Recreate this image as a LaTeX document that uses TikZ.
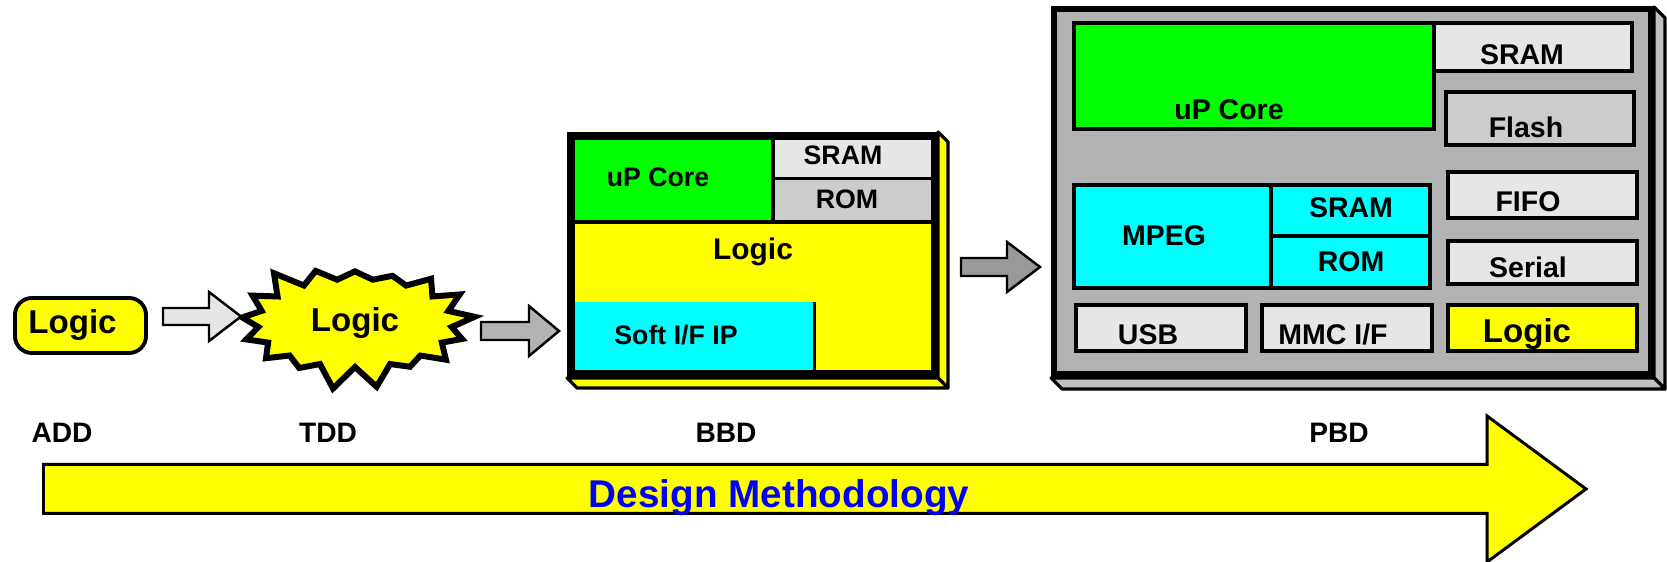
\documentclass[tikz,border=0pt]{standalone}
\usepackage{fontspec}
\setmainfont{Liberation Sans}
\usetikzlibrary{shapes.symbols}

\definecolor{ltgray}{HTML}{E6E6E6}
\definecolor{mdgray}{HTML}{CCCCCC}
\definecolor{chipgray}{HTML}{B3B3B3}
\definecolor{dkgray}{HTML}{999999}
\definecolor{sidegray}{HTML}{C0C0C0}
\definecolor{logicyellow}{RGB}{255,255,0}
\definecolor{coregreen}{RGB}{0,255,0}
\definecolor{ipcyan}{RGB}{0,255,255}
\definecolor{titleblue}{RGB}{0,0,255}

% block arrow: options, start, body length, head length, body half, head half
\newcommand{\fatarrow}[6]{%
  \draw[#1] (#2) ++(0,-#5) -- ++(#3,0) -- ++(0,#5-#6) -- ++(#4,#6)
    -- ++(-#4,#6) -- ++(0,#5-#6) -- ++(-#3,0) -- cycle;}

\begin{document}
\begin{tikzpicture}[x=0.01cm, y=-0.01cm,
    lbl/.style={font=\fontsize{8}{9.6}\selectfont\bfseries, inner sep=0pt, anchor=base},
    big/.style={font=\fontsize{9.4}{11}\selectfont\bfseries, inner sep=0pt, anchor=base},
    sml/.style={font=\fontsize{7.6}{9}\selectfont\bfseries, inner sep=0pt, anchor=base},
    chip/.style={font=\fontsize{8.1}{9.6}\selectfont\bfseries, inner sep=0pt, anchor=base},
    arrowline/.style={draw, line width=0.7pt},
    face/.style={draw, line width=0.9pt, line join=round},
    blk/.style={draw, line width=1pt}]
  \useasboundingbox (0,0) rectangle (1667,562);

  % methodology arrow
  \coordinate (dm) at (43.5,489);
  \fatarrow{line width=0.85pt, fill=logicyellow}{dm}{1443.5}{99}{24.5}{73}
  \node[font=\fontsize{11}{13}\selectfont\bfseries, text=titleblue, anchor=base, inner sep=0pt] (dmtext) at (779,508) {Design Methodology};

  \node[lbl] (add) at (62,443) {ADD};
  \node[lbl] (tdd) at (328,443) {TDD};
  \node[lbl] (bbd) at (726,443) {BBD};
  \node[lbl] (pbd) at (1339,443) {PBD};

  % ADD and TDD
  \node[draw, fill=logicyellow, line width=1.1pt, rounded corners=0.17cm, minimum width=1.31cm, minimum height=0.55cm, inner sep=0pt, font=\fontsize{9.4}{11}\selectfont\bfseries] (addlogic) at (80.5,325.5) {Logic\hspace*{0.16cm}};
  \node[starburst, draw, fill=logicyellow, line width=1.7pt, starburst points=17, starburst point height=0.24cm, random starburst=3, minimum width=2.42cm, minimum height=1.36cm, font=\fontsize{9.4}{11}\selectfont\bfseries] (tddlogic) at (355,323) {Logic};

  \coordinate (a1) at (163,316.5);
  \fatarrow{arrowline, fill=ltgray}{a1}{46}{32}{8.5}{24.5}
  \coordinate (a2) at (481,331);
  \fatarrow{arrowline, fill=chipgray}{a2}{48}{30}{9}{25}
  \coordinate (a3) at (961,267);
  \fatarrow{arrowline, fill=dkgray}{a3}{46}{33}{9}{25}

  % BBD chip
  \draw[face, fill=logicyellow] (938,132) -- (948,142) -- (948,388) -- (938,378) -- cycle;
  \draw[face, fill=logicyellow] (567,378) -- (938,378) -- (948,388) -- (577,388) -- cycle;
  \fill[logicyellow] (571,136) rectangle (935,374);
  \fill[coregreen] (571,136) rectangle (773,222);
  \fill[ltgray] (773,136) rectangle (935,179);
  \fill[mdgray] (773,179) rectangle (935,222);
  \fill[ipcyan] (571,302) rectangle (814,374);
  \draw[line width=1.15pt] (773,136) -- (773,222);
  \draw[line width=1.15pt] (571,222) -- (935,222);
  \draw[line width=0.85pt] (773,179) -- (935,179);
  \draw[line width=0.85pt] (814,302) -- (814,374);
  \draw[line width=2.2pt] (571,136) rectangle (935,374);
  \node[sml] (bcore) at (658,187) {uP Core};
  \node[sml] (bsram) at (843,165) {SRAM};
  \node[sml] (brom) at (847,209) {ROM};
  \node[font=\fontsize{8.5}{10}\selectfont\bfseries, anchor=base, inner sep=0pt] (blogic) at (753,260) {Logic};
  \node[sml] (bsoft) at (676,345) {Soft I/F IP};

  % PBD chip
  \draw[face, fill=sidegray] (1654,7) -- (1665,18) -- (1665,389) -- (1654,378) -- cycle;
  \draw[face, fill=sidegray] (1051,378) -- (1654,378) -- (1665,389) -- (1062,389) -- cycle;
  \draw[line width=1.7pt, fill=chipgray] (1054,9.5) rectangle (1651,374.5);
  \draw[blk, fill=coregreen] (1074,23) rectangle (1434,129);
  \draw[blk, fill=ltgray] (1434,23) rectangle (1632,71);
  \draw[blk, fill=mdgray] (1446,92) rectangle (1634,145);
  \draw[blk, fill=ltgray] (1448,172) rectangle (1637,218);
  \draw[blk, fill=ltgray] (1448,241) rectangle (1637,284);
  \draw[blk, fill=logicyellow] (1448,305) rectangle (1637,351);
  \draw[blk, fill=ipcyan] (1074,185) rectangle (1430,288);
  \draw[blk] (1271,185) -- (1271,288);
  \draw[blk] (1271,236) -- (1430,236);
  \draw[blk, fill=ltgray] (1076,305) rectangle (1246,351);
  \draw[blk, fill=ltgray] (1262,305) rectangle (1432,351);
  \node[chip] (pcore) at (1229,120) {uP Core};
  \node[chip] (psram) at (1522,65) {SRAM};
  \node[chip] (pflash) at (1526,138) {Flash};
  \node[chip] (pfifo) at (1528,212) {FIFO};
  \node[chip] (pserial) at (1528,278) {Serial};
  \node[big] (plogic) at (1527,343) {Logic};
  \node[chip] (pmpeg) at (1164,246) {MPEG};
  \node[chip] (pmsram) at (1351,218) {SRAM};
  \node[chip] (pmrom) at (1351,272) {ROM};
  \node[chip] (pusb) at (1148,345) {USB};
  \node[chip] (pmmc) at (1333,345) {MMC I/F};
\end{tikzpicture}
\end{document}
